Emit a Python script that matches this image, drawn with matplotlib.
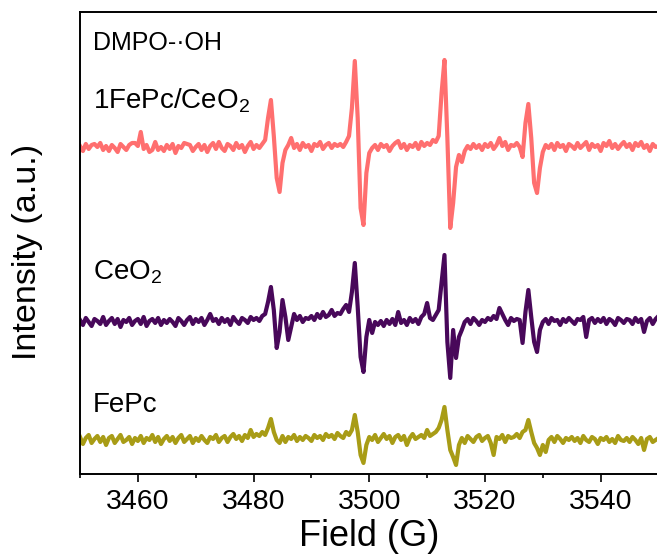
import numpy as np
from matplotlib import pyplot as plt

plt.rcParams['font.family'] = ['Liberation Sans', 'DejaVu Sans']
plt.rcParams['mathtext.default'] = 'regular'

# magnetic field grid (G), 0.5 G steps
field = np.arange(3450, 3550.01, 0.5)

# EPR signals (a.u., baseline = 0)
fepc_ceo2 = [
    2, -3, 4, -1, 3, 4, 1, 5, -2, 2,
    -3, 3, 0, -4, 4, 1, -2, 3, 5, 5,
    2, 16, -1, 3, -4, -2, 6, -2, 1, -3,
    3, -1, 4, -5, 2, 0, 5, 4, 3, -3,
    1, 4, -2, 3, -4, 2, 5, -1, 6, 0,
    -3, 4, 2, -2, 5, 0, 3, -4, 2, 6,
    -1, 3, 0, 4, 8, 30, 48, 12, -30, -44,
    -15, -2, 3, 10, 0, 4, -2, 5, 1, 3,
    -3, 4, 2, 6, -1, 3, 5, 0, 4, 2,
    4, 1, 6, 12, 40, 87, 30, -60, -77, -25,
    -5, 0, 3, -2, 4, 1, 3, -3, 2, 5,
    7, 0, 4, -2, 3, 1, 5, -1, 6, 2,
    5, 3, 8, 6, 12, 55, 88, 10, -80, -55,
    -19, -7, -14, -3, 2, -1, 4, 0, 3, -2,
    4, 1, 5, -1, 3, 10, 2, 6, -2, 3,
    2, 5, 1, -9, 25, 44, 10, -35, -45, -20,
    -4, 3, 0, 4, -2, 5, 1, 3, -3, 4,
    2, -1, 5, 0, 3, 6, -2, 4, 1, 3,
    -3, 5, 2, 7, 0, 4, -1, 3, 6, 1,
    4, -2, 5, 2, 6, 0, 3, -3, 4, 1, 2,
]

ceo2 = [
    2, -3, 4, 0, -4, 3, 1, -2, 5, -3,
    1, 4, -2, 3, -5, 2, 0, 4, -3, 1,
    3, -2, 5, -4, 1, 3, -1, 4, -3, 2,
    -1, 3, 0, -4, 4, 1, -3, 2, 5, -2,
    3, 0, 4, -3, 2, 8, 1, 3, -2, 4,
    0, 3, -3, 5, 1, -2, 4, 2, -1, 5,
    2, 4, 1, 6, 8, 20, 35, 12, -26, -10,
    22, 5, -18, -5, 8, 2, 6, 0, 4, 3,
    6, 2, 8, 4, 10, 5, 7, 12, 6, 9,
    8, 13, 17, 10, 30, 59, 15, -35, -50, -15,
    2, -11, 0, -3, 1, -4, 2, -2, 3, -3,
    10, -1, 2, -3, 4, 0, 3, -2, 5, 8,
    19, 4, 2, 7, 12, 40, 67, -20, -56, -8,
    -36, -15, -8, 0, 3, -2, 4, 1, -3, 2,
    0, 4, 2, 6, 3, 14, 8, 2, -3, 4,
    1, 3, 2, -21, 10, 32, 5, -20, -30, -8,
    0, 3, -2, 4, 1, 2, -3, 3, 0, 4,
    1, -2, 3, 2, 5, -15, 2, 4, -1, 3,
    0, 4, -2, 3, 1, -3, 4, 2, -1, 3,
    2, -2, 4, 0, 3, -10, 1, 4, -2, 3, 6,
]

fepc = [
    3, -4, 2, 5, -3, 1, 4, -2, 3, -5,
    2, 4, -3, 1, 5, -2, 0, 3, -4, 2,
    -1, 4, -3, 2, 0, 5, -2, 3, -4, 1,
    4, -1, 3, -3, 2, 5, -2, 1, 4, -3,
    2, -1, 4, 0, -3, 3, 1, 5, -2, 2,
    4, -2, 3, 6, 1, 4, -1, 5, 2, 10,
    3, 6, 4, 8, 5, 12, 21, 8, 0, -3,
    4, -2, 3, 1, 5, -1, 3, 0, 4, 2,
    -1, 5, 2, 4, 0, 6, 3, 5, 1, 7,
    4, 2, 8, 5, 10, 25, 8, -15, -23, -5,
    3, 0, 5, -2, 2, 6, 1, 4, -3, 3,
    5, 0, 4, -5, 2, 6, 1, 3, 5, 2,
    10, 4, 6, 8, 12, 20, 33, 10, -10, -17,
    -25, -5, 2, -3, 4, 1, -2, 3, 5, -1,
    2, 4, -3, -15, 3, 1, 5, -2, 4, 2,
    3, 6, 2, 8, 10, 20, 8, -3, -8, -15,
    -5, -12, 0, 3, -2, 4, 1, -3, 2, 0,
    3, -1, 2, -3, 4, 0, -2, 3, 1, -4,
    2, 0, 3, -2, 1, -3, 4, 0, -1, 2,
    -2, 3, 0, -4, 2, -10, 1, 3, -2, 0, 2,
]

# vertical stacking offsets
offsets = [326, 152, 34]

fig = plt.figure(figsize=(6.57, 5.6), dpi=100)
ax = fig.add_axes([0.1218, 0.1536, 0.8805, 0.825])

ax.plot(field, np.array(fepc_ceo2) + offsets[0], color='#FF6F6F', lw=3.0)
ax.plot(field, np.array(ceo2) + offsets[1], color='#48085A', lw=3.0)
ax.plot(field, np.array(fepc) + offsets[2], color='#A89C16', lw=3.0)

ax.set_xlim(3450, 3550)
ax.set_ylim(0, 462)
ax.set_yticks([])
ax.set_xticks([3460, 3480, 3500, 3520, 3540])
ax.set_xticks(np.arange(3450, 3551, 10), minor=True)
ax.tick_params(axis='x', which='major', direction='out', length=6, width=1.2,
               labelsize=20.5, pad=5)
ax.tick_params(axis='x', which='minor', direction='out', length=3, width=1.2)
for s in ax.spines.values():
    s.set_linewidth(1.4)

ax.set_xlabel('Field (G)', fontsize=26, labelpad=3)
ax.set_ylabel('Intensity (a.u.)', fontsize=24.5)
ax.yaxis.set_label_coords(-0.064, 0.48)

ax.text(0.0225, 0.918, 'DMPO-\u00b7OH', transform=ax.transAxes, fontsize=18, va='baseline')
ax.text(0.0225, 0.792, '1FePc/CeO$_2$', transform=ax.transAxes, fontsize=20, va='baseline')
ax.text(0.0225, 0.422, 'CeO$_2$', transform=ax.transAxes, fontsize=20, va='baseline')
ax.text(0.0225, 0.134, 'FePc', transform=ax.transAxes, fontsize=20, va='baseline')

plt.savefig('out.png', dpi=100)
